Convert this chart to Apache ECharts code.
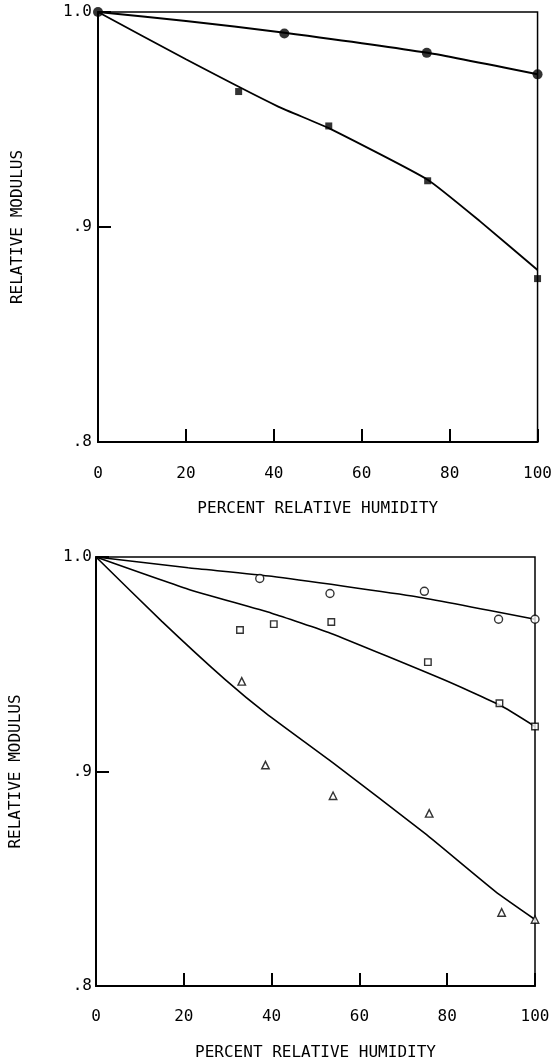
<!DOCTYPE html>
<html>
<head>
<meta charset="utf-8">
<script src="https://cdn.jsdelivr.net/npm/echarts@6/dist/echarts.min.js"></script>
<style>
html,body{margin:0;padding:0;background:#fff;}
#c{width:555px;height:1063px;}
</style>
</head>
<body>
<div id="c"></div>
<script>
// ---- tick labels ----
const xTickLabels = ['0', '20', '40', '60', '80', '100'];
const yTickLabels = ['.8', '.9', '1.0'];
const xTitle = 'PERCENT RELATIVE HUMIDITY';
const yTitle = 'RELATIVE MODULUS';

// ---- top panel: measured points ----
const topCircleX = [0, 42.4, 74.8, 100];
const topCircleY = [1.0, 0.990, 0.981, 0.971];
const topSquareX = [32, 52.5, 75, 100];
const topSquareY = [0.963, 0.947, 0.9215, 0.876];
// ---- top panel: drawn curves ----
const topCircleFitX = [0, 20, 42, 75, 100];
const topCircleFitY = [1.0, 0.9958, 0.9905, 0.981, 0.971];
const topSquareFitX = [0, 20, 41, 52.5, 75, 87, 100];
const topSquareFitY = [1.0, 0.978, 0.956, 0.946, 0.922, 0.9025, 0.880];

// ---- bottom panel: measured points ----
const botCircleX = [37.3, 53.3, 74.8, 91.7, 100];
const botCircleY = [0.990, 0.983, 0.984, 0.971, 0.971];
const botSquareX = [32.8, 40.5, 53.6, 75.6, 91.9, 100];
const botSquareY = [0.966, 0.9687, 0.9697, 0.951, 0.9318, 0.921];
const botTriX = [33.2, 38.6, 54.0, 75.9, 92.4, 100];
const botTriY = [0.942, 0.903, 0.8887, 0.8805, 0.8343, 0.831];
// ---- bottom panel: drawn curves ----
const botCircleFitX = [0, 21, 40, 73, 100];
const botCircleFitY = [1.0, 0.995, 0.991, 0.9815, 0.971];
const botSquareFitX = [0, 21, 40, 53.4, 79, 92, 100];
const botSquareFitY = [1.0, 0.985, 0.9738, 0.9645, 0.943, 0.931, 0.921];
const botTriFitX = [0, 15, 29.5, 38.8, 54, 75, 91, 100];
const botTriFitY = [1.0, 0.970, 0.9427, 0.927, 0.904, 0.871, 0.844, 0.831];

const zip = (xs, ys) => xs.map((x, i) => [x, ys[i]]);
const FONT = '"DejaVu Sans Mono", "Liberation Mono", monospace';

function xAxisFor(gi, margin) {
  return {
    gridIndex: gi, type: 'value', min: 0, max: 100, interval: 20,
    name: xTitle, nameLocation: 'middle', nameGap: 59,
    nameTextStyle: {fontFamily: FONT, fontSize: 16, color: '#000'},
    axisLine: {show: true, lineStyle: {color: '#000', width: 2}},
    axisTick: {show: true, inside: true, length: 13, lineStyle: {color: '#000', width: 2}},
    axisLabel: {margin: margin, fontFamily: FONT, fontSize: 16, color: '#000',
      formatter: v => xTickLabels[Math.round(v / 20)]},
    splitLine: {show: false}
  };
}
function yAxisFor(gi, margin) {
  return {
    gridIndex: gi, type: 'value', min: 0.8, max: 1.0, interval: 0.1,
    name: yTitle, nameLocation: 'middle', nameGap: 72,
    nameTextStyle: {fontFamily: FONT, fontSize: 16, color: '#000'},
    axisLine: {show: true, lineStyle: {color: '#000', width: 2}},
    axisTick: {show: true, inside: true, length: 13, lineStyle: {color: '#000', width: 2}},
    axisLabel: {margin: margin, fontFamily: FONT, fontSize: 16, color: '#000',
      formatter: v => yTickLabels[Math.round((v - 0.8) / 0.1)]},
    splitLine: {show: false}
  };
}
function fit(gi, xs, ys, w) {
  return {type: 'line', xAxisIndex: gi, yAxisIndex: gi, data: zip(xs, ys),
    showSymbol: false, symbol: 'none', smooth: 0.15, z: 2,
    lineStyle: {color: '#000', width: w}, silent: true};
}
function pts(gi, xs, ys, symbol, size, filled) {
  return {type: 'scatter', xAxisIndex: gi, yAxisIndex: gi, data: zip(xs, ys),
    symbol: symbol, symbolSize: size, z: 5, silent: true,
    itemStyle: filled ? {color: '#000'} : {color: '#fff', borderColor: '#000', borderWidth: 1.4}};
}

const chart = echarts.init(document.getElementById('c'));
chart.setOption({
  animation: false,
  backgroundColor: '#fff',
  grid: [
    {left: 98, right: 16, top: 12, height: 430, show: true, borderColor: '#000', borderWidth: 1.5},
    {left: 95, right: 20, top: 557, height: 429, show: true, borderColor: '#000', borderWidth: 1.5}
  ],
  xAxis: [xAxisFor(0, 24), xAxisFor(1, 23)],
  yAxis: [yAxisFor(0, 6), yAxisFor(1, 4)],
  series: [
    fit(0, topCircleFitX, topCircleFitY, 2),
    fit(0, topSquareFitX, topSquareFitY, 1.8),
    pts(0, topCircleX, topCircleY, 'circle', 10, true),
    pts(0, topSquareX, topSquareY, 'rect', 7, true),
    fit(1, botCircleFitX, botCircleFitY, 1.6),
    fit(1, botSquareFitX, botSquareFitY, 1.6),
    fit(1, botTriFitX, botTriFitY, 1.6),
    pts(1, botCircleX, botCircleY, 'circle', 8, false),
    pts(1, botSquareX, botSquareY, 'rect', 6.5, false),
    pts(1, botTriX, botTriY, 'triangle', 7.5, false)
  ]
});
</script>
</body>
</html>
